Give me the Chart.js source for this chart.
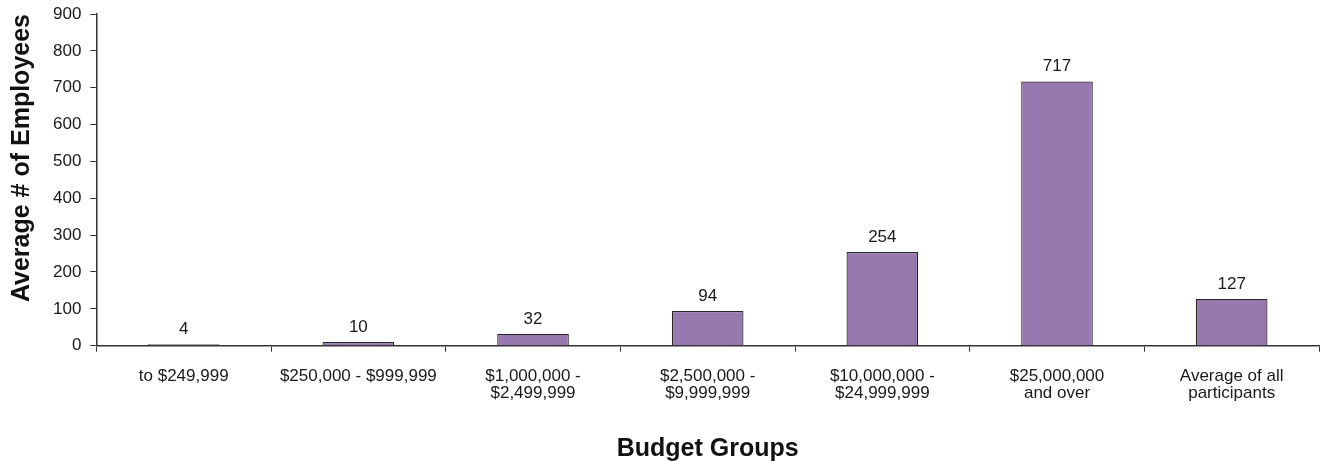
<!DOCTYPE html>
<html>
<head>
<meta charset="utf-8">
<script src="https://cdn.jsdelivr.net/npm/chart.js@4.4.1/dist/chart.umd.min.js"></script>
<style>
  html, body { margin: 0; padding: 0; background: #ffffff; }
  #wrap { width: 1335px; height: 461px; }
</style>
</head>
<body>
<div id="wrap"><canvas id="budgetChart" width="1335" height="461"></canvas></div>
<script>
// categories (budget groups) and values
const categories = [
  "to $249,999",
  "$250,000 - $999,999",
  ["$1,000,000 -", "$2,499,999"],
  ["$2,500,000 -", "$9,999,999"],
  ["$10,000,000 -", "$24,999,999"],
  ["$25,000,000", "and over"],
  ["Average of all", "participants"]
];
const employees = [4, 10, 32, 94, 254, 717, 127];
const yTicks = [0, 100, 200, 300, 400, 500, 600, 700, 800, 900];

const axisColor = "#333333";
const fontFamily = "'Liberation Sans', Arial, sans-serif";

// value labels on top of each bar
const barLabels = {
  id: "barLabels",
  afterDatasetsDraw(chart) {
    const { ctx } = chart;
    const meta = chart.getDatasetMeta(0);
    ctx.save();
    ctx.font = "17px " + fontFamily;
    ctx.fillStyle = "#1a1a1a";
    ctx.textAlign = "center";
    ctx.textBaseline = "alphabetic";
    meta.data.forEach((bar, i) => {
      ctx.fillText(String(employees[i]), bar.x, bar.y - 10);
    });
    ctx.restore();
  }
};

const chart = new Chart(document.getElementById("budgetChart"), {
  type: "bar",
  data: {
    labels: categories,
    datasets: [{
      data: employees,
      backgroundColor: "#9779b0",
      borderColor: "#262626",
      borderWidth: 1.2,
      categoryPercentage: 0.41,
      barPercentage: 1.0
    }]
  },
  options: {
    responsive: false,
    animation: false,
    layout: { padding: { top: 14, right: 16, left: 7, bottom: -3 } },
    plugins: {
      legend: { display: false },
      tooltip: { enabled: false }
    },
    scales: {
      x: {
        offset: true,
        grid: {
          offset: true,
          drawOnChartArea: false,
          drawTicks: true,
          tickLength: 6,
          color: axisColor
        },
        border: { color: axisColor, width: 1.5 },
        ticks: {
          color: "#1a1a1a",
          font: { family: fontFamily, size: 17, lineHeight: 0.95 },
          maxRotation: 0,
          autoSkip: false,
          padding: 17
        },
        title: {
          display: true,
          text: "Budget Groups",
          color: "#111111",
          font: { family: fontFamily, size: 25, weight: "bold" },
          padding: { top: 16, bottom: 0 }
        }
      },
      y: {
        min: 0,
        max: 900,
        afterBuildTicks(scale) {
          scale.ticks = yTicks.map(v => ({ value: v }));
        },
        grid: {
          drawOnChartArea: false,
          drawTicks: true,
          tickLength: 6,
          color: axisColor
        },
        border: { color: axisColor, width: 1.5 },
        ticks: {
          color: "#1a1a1a",
          font: { family: fontFamily, size: 17, lineHeight: 0.4 },
          padding: 9
        },
        title: {
          display: true,
          align: "end",
          text: "Average # of Employees",
          color: "#111111",
          font: { family: fontFamily, size: 25, weight: "bold" },
          padding: { top: 0, bottom: 7 }
        }
      }
    }
  },
  plugins: [barLabels]
});
</script>
</body>
</html>
